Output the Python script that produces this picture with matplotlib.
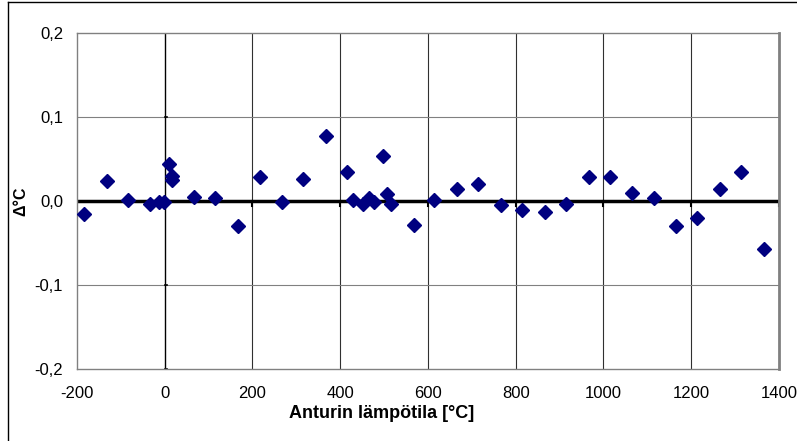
import matplotlib
matplotlib.use("Agg")
import matplotlib.pyplot as plt
from matplotlib.lines import Line2D

plt.rcParams['font.family'] = ['Liberation Sans', 'DejaVu Sans']

# sensor temperature [°C] and deviation [°C]
temps = [-183, -132, -84, -33, -13, -2, 10, 16, 17, 67, 115, 168, 216, 268,
         316, 367, 416, 430, 453, 466, 477, 497, 507, 515, 567, 614, 666,
         715, 766, 814, 867, 915, 966, 1014, 1066, 1114, 1165, 1213, 1265,
         1313, 1365]
delta = [-0.015, 0.024, 0.001, -0.003, -0.001, -0.001, 0.044, 0.030, 0.025,
         0.005, 0.004, -0.030, 0.028, -0.001, 0.026, 0.077, 0.034, 0.001,
         -0.004, 0.003, -0.001, 0.053, 0.008, -0.004, -0.029, 0.001, 0.014,
         0.020, -0.005, -0.011, -0.013, -0.003, 0.028, 0.028, 0.010, 0.003,
         -0.030, -0.020, 0.014, 0.034, -0.057]

xticks = [-200, 0, 200, 400, 600, 800, 1000, 1200, 1400]
yticks = [-0.2, -0.1, 0.0, 0.1, 0.2]
ylabels = ['-0,2', '-0,1', '0,0', '0,1', '0,2']

fig = plt.figure(figsize=(7.97, 4.41), dpi=100)
ax = fig.add_axes([0.0966, 0.1633, 0.8808, 0.7619])

ax.set_xlim(-200, 1400)
ax.set_ylim(-0.2, 0.2)

for x in xticks[2:-1]:
    ax.axvline(x, color='#303030', lw=0.8, zorder=1)
for y in [-0.1, 0.1]:
    ax.axhline(y, color='#808080', lw=0.8, zorder=1)

# axes crossing at zero
ax.axvline(0, color='black', lw=1.0, zorder=2)
ax.axhline(0, color='black', lw=2.5, zorder=2)
for x in xticks[1:]:
    ax.plot([x, x], [0, -0.006], color='black', lw=1.5, zorder=2)
for y in yticks:
    ax.plot([0, 6], [y, y], color='black', lw=1.2, zorder=2)

ax.plot(temps, delta, linestyle='none', marker='D', markersize=7,
        color='#000080', zorder=3)

for s in ax.spines.values():
    s.set_color('#808080')
    s.set_linewidth(1.0)
ax.spines['right'].set_linewidth(2.0)

ax.set_xticks(xticks)
ax.set_xticklabels([str(x) for x in xticks], fontsize=12)
ax.set_yticks(yticks)
ax.set_yticklabels(ylabels, fontsize=12)
ax.tick_params(length=0)
ax.tick_params(axis='x', pad=12)
ax.tick_params(axis='y', pad=10)

ax.set_xlabel('Anturin lämpötila [°C]', fontsize=13, fontweight='bold',
              va='center')
ax.xaxis.set_label_coords(0.434, -0.131)
ax.set_ylabel('Δ°C', fontsize=11.5, fontweight='bold', va='center')
ax.yaxis.set_label_coords(-0.08, 0.5)

# outer chart frame (left and top edges visible)
fig.add_artist(Line2D([8 / 797, 8 / 797], [0, 1 - 2 / 441], color='black',
                      lw=1.0, transform=fig.transFigure))
fig.add_artist(Line2D([8 / 797, 1], [1 - 2 / 441, 1 - 2 / 441], color='black',
                      lw=1.0, transform=fig.transFigure))

fig.savefig('out.png', dpi=100)
